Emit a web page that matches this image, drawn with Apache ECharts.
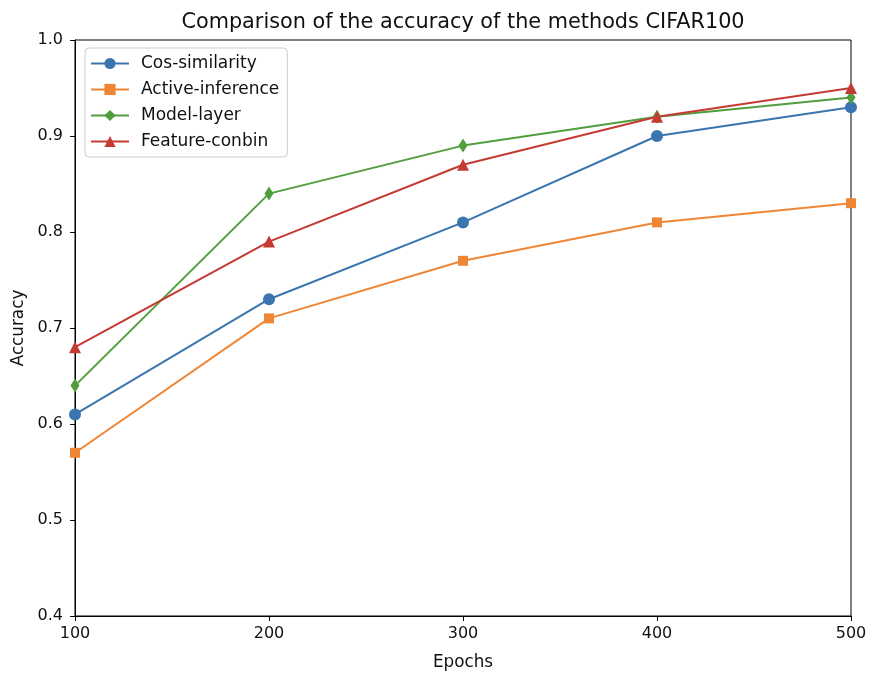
<!DOCTYPE html>
<html>
<head>
<meta charset="utf-8">
<script src="https://cdn.jsdelivr.net/npm/echarts@6/dist/echarts.min.js"></script>
<style>html,body{margin:0;padding:0;background:#fff}#c{width:877px;height:680px}</style>
</head>
<body>
<div id="c"></div>
<script>
const epochs = [100, 200, 300, 400, 500];
const cosSimilarity = [0.61, 0.73, 0.81, 0.90, 0.93];
const activeInference = [0.57, 0.71, 0.77, 0.81, 0.83];
const modelLayer = [0.64, 0.84, 0.89, 0.92, 0.94];
const featureConbin = [0.68, 0.79, 0.87, 0.92, 0.95];
const seriesNames = ['Cos-similarity', 'Active-inference', 'Model-layer', 'Feature-conbin'];
const colors = ['#3b75af', '#ef8636', '#519e3e', '#c53a32'];

const FONT = 'DejaVu Sans';
const TXT = '#111';
const pair = arr => epochs.map((e, i) => [e, arr[i]]);
const symbols = ['circle', 'rect', 'diamond', 'triangle'];
const sizes = [12, 10, [9, 14], 12];
const all = [cosSimilarity, activeInference, modelLayer, featureConbin];

const chart = echarts.init(document.getElementById('c'), null, {renderer: 'canvas'});
chart.setOption({
  animation: false,
  backgroundColor: '#fff',
  color: colors,
  title: {
    text: 'Comparison of the accuracy of the methods CIFAR100',
    left: 458, top: 7, textAlign: 'center',
    textStyle: {fontFamily: FONT, fontSize: 20.8, fontWeight: 'normal', color: TXT}
  },
  legend: {
    orient: 'vertical', left: 85, top: 48,
    padding: [7, 8, 7, 5],
    backgroundColor: 'rgba(255,255,255,0.8)',
    borderColor: '#cccccc', borderWidth: 1, borderRadius: 4,
    itemWidth: 38, itemHeight: 14, itemGap: 9,
    textStyle: {fontFamily: FONT, fontSize: 17, color: TXT, padding: [0, 0, 0, 7]},
    data: seriesNames
  },
  grid: {left: 75, right: 26, top: 40, bottom: 64, show: true, borderColor: '#000', borderWidth: 1, containLabel: false},
  xAxis: {
    type: 'value', min: 100, max: 500, interval: 100,
    name: 'Epochs', nameLocation: 'middle', nameGap: 38,
    nameTextStyle: {fontFamily: FONT, fontSize: 16.8, color: TXT},
    axisLine: {show: true, lineStyle: {color: '#000', width: 1}},
    axisTick: {show: true, length: 5, lineStyle: {color: '#000'}},
    axisLabel: {fontFamily: FONT, fontSize: 16, color: TXT, margin: 10},
    splitLine: {show: false}
  },
  yAxis: {
    type: 'value', min: 0.4, max: 1.0, interval: 0.1,
    name: 'Accuracy', nameLocation: 'middle', nameGap: 48,
    nameTextStyle: {fontFamily: FONT, fontSize: 16.8, color: TXT},
    axisLine: {show: true, lineStyle: {color: '#000', width: 1}},
    axisTick: {show: true, length: 5, lineStyle: {color: '#000'}},
    axisLabel: {fontFamily: FONT, fontSize: 16, color: TXT, margin: 12,
      formatter: v => v.toFixed(1)},
    splitLine: {show: false}
  },
  series: all.map((arr, i) => ({
    name: seriesNames[i],
    type: 'line',
    data: pair(arr),
    symbol: symbols[i],
    symbolSize: sizes[i],
    showAllSymbol: true,
    clip: false,
    lineStyle: {width: 2, color: colors[i]},
    itemStyle: {color: colors[i], borderWidth: 0},
    emphasis: {disabled: true}
  }))
});
</script>
</body>
</html>
